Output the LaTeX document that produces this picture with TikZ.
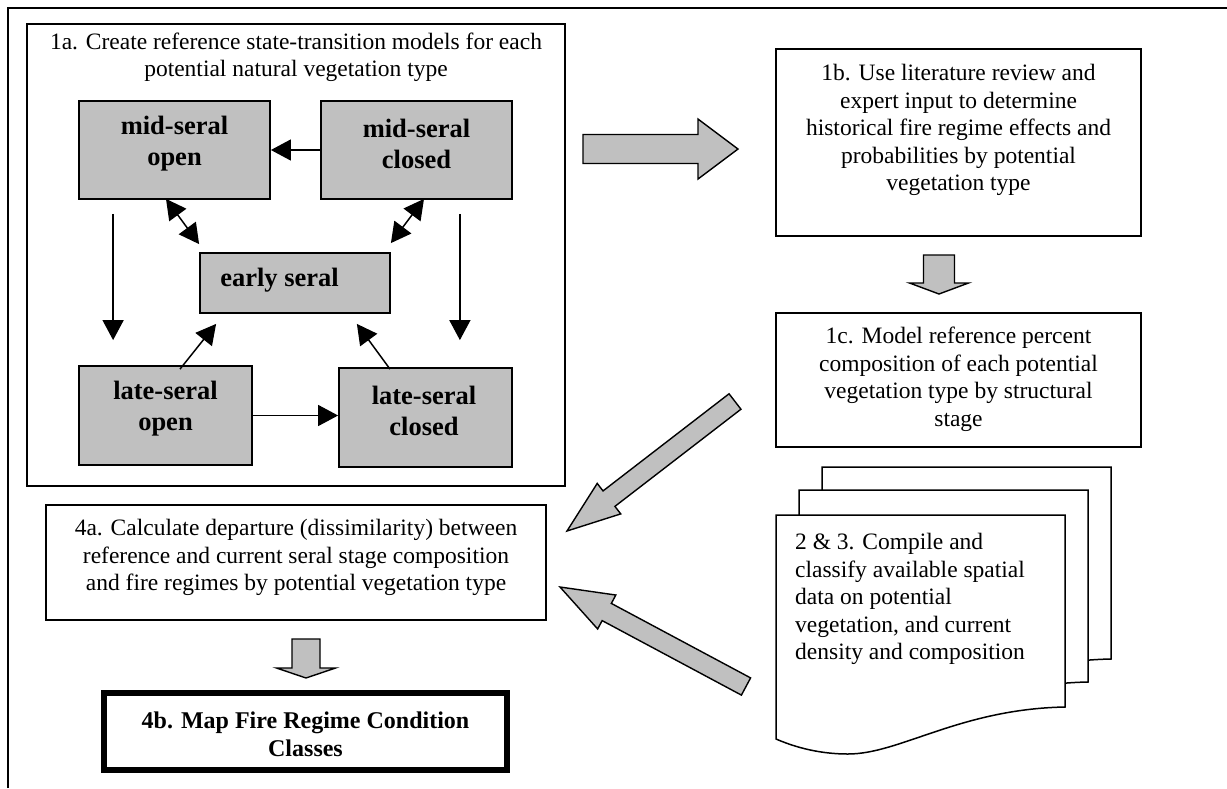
\documentclass[tikz,border=0pt]{standalone}
\usepackage{fontspec}
\setmainfont{Liberation Serif}
\usetikzlibrary{arrows.meta,calc}
\definecolor{boxgray}{RGB}{192,192,192}
\newcommand{\fatarrow}[5]{%
  \coordinate (fah) at ($(#2)!#5!(#1)$);
  \draw[fat] ($(#1)!#3!90:(#2)$) -- ($(fah)!#3!90:(#2)$) -- ($(fah)!#4!90:(#2)$) -- (#2)
    -- ($(fah)!#4!-90:(#2)$) -- ($(fah)!#3!-90:(#2)$) -- ($(#1)!#3!-90:(#2)$) -- cycle;}
\begin{document}
\begin{tikzpicture}[x=1pt,y=-1pt,
  box/.style={draw, line width=1.8pt, rectangle, inner sep=0pt},
  graybox/.style={box, fill=boxgray},
  txt/.style={font=\fontsize{23.5}{27.5}\selectfont, align=center, inner sep=0pt},
  graytxt/.style={font=\fontsize{26.5}{31}\selectfont\bfseries, align=center, inner sep=0pt},
  conn/.style={line width=1.5pt, -{Triangle[length=20pt,width=21pt]}},
  dconn/.style={line width=1.5pt, {Triangle[length=20pt,width=21pt]}-{Triangle[length=20pt,width=21pt]}},
  fat/.style={draw, line width=1.4pt, fill=boxgray, line join=miter},
  docpage/.pic={\draw[line width=1.5pt, fill=white] (0,0) -- (289,0) -- (289,192)
     .. controls (184,194) and (124,239) .. (72,239)
     .. controls (39,239) and (14,230) .. (0,224) -- cycle;}
]
\useasboundingbox (0,0) rectangle (1227,788);
\fill[white] (0,0) rectangle (1227,788);
% outer frame (top and left)
\draw[line width=2.2pt] (8,788) -- (8,8) -- (1227,8);

% box 1a
\node[box, minimum width=538pt, minimum height=462pt] (b1a) at (296,255) {};
\node[txt] (t1a) at (296,57.5) {1a. Create reference state-transition models for each\\potential natural vegetation type};

\node[graybox, minimum width=191pt, minimum height=98pt] (mso) at (174.5,150) {};
\node[graytxt] (tmso) at (174.5,143.5) {mid-seral\\open};
\node[graybox, minimum width=191pt, minimum height=98pt] (msc) at (416.5,150) {};
\node[graytxt] (tmsc) at (416.5,143.5) {mid-seral\\closed};
\node[graybox, minimum width=190pt, minimum height=60pt] (es) at (295,283) {};
\node[graytxt] (tes) at (279.5,280) {early seral};
\node[graybox, minimum width=173pt, minimum height=99pt] (lso) at (165.5,415.5) {};
\node[graytxt] (tlso) at (165.5,409) {late-seral\\open};
\node[graybox, minimum width=173pt, minimum height=99pt] (lsc) at (425.5,417.5) {};
\node[graytxt] (tlsc) at (424,411) {late-seral\\closed};

% connectors inside 1a
\draw[conn] (msc.west) -- (mso.east);
\draw[conn] (lso.east) -- (lso.east -| lsc.west);
\draw[conn] ([xshift=35pt,yshift=-14pt]mso.south west) -- ([xshift=35pt,yshift=25pt]lso.north west);
\draw[conn] ([xshift=-53pt,yshift=-14pt]msc.south east) -- ([xshift=-53pt,yshift=27pt]lsc.north east);
\draw[dconn] ([xshift=-8.5pt,yshift=1pt]mso.south) -- ([yshift=8pt]es.north west);
\draw[dconn] ([xshift=7.5pt,yshift=1pt]msc.south) -- ([yshift=9pt]es.north east);
\draw[conn] ([xshift=14.5pt,yshift=-4pt]lso.north) -- ([xshift=17pt,yshift=-10pt]es.south west);
\draw[conn] ([xshift=-35.5pt,yshift=-2pt]lsc.north) -- ([xshift=-34pt,yshift=-10pt]es.south east);

% box 1b
\node[box, minimum width=365pt, minimum height=187pt] (b1b) at (958.5,142.5) {};
\node[txt] (t1b) at (958.5,130) {1b. Use literature review and\\expert input to determine\\historical fire regime effects and\\probabilities by potential\\vegetation type};

% box 1c
\node[box, minimum width=365pt, minimum height=134pt] (b1c) at (958.5,380) {};
\node[txt] (t1c) at (958.5,379.5) {1c. Model reference percent\\composition of each potential\\vegetation type by structural\\stage};

% box 4a
\node[box, minimum width=500pt, minimum height=115pt] (b4a) at (296,562.5) {};
\node[txt] (t4a) at (296,557.5) {4a. Calculate departure (dissimilarity) between\\reference and current seral stage composition\\and fire regimes by potential vegetation type};

% box 4b
\node[box, line width=6pt, minimum width=403pt, minimum height=77pt] (b4b) at (305.5,731.5) {};
\node[txt, font=\fontsize{24}{28}\selectfont\bfseries] (t4b) at (305.5,734) {4b. Map Fire Regime Condition\\Classes};

% documents
\pic at (822,467) {docpage};
\pic at (799,490) {docpage};
\pic at (776,515) {docpage};
\node[txt, align=left, anchor=west] (tdoc) at (795,599) {2 \& 3. Compile and\\classify available spatial\\data on potential\\vegetation, and current\\density and composition};

% block arrows
\coordinate (r1t) at (583,149); \coordinate (r1p) at (738,149);
\fatarrow{r1t}{r1p}{14.5pt}{30pt}{40pt}
\coordinate (d1t) at (939,255); \coordinate (d1p) at (939,294);
\fatarrow{d1t}{d1p}{15.5pt}{29.5pt}{11pt}
\coordinate (d2t) at (306,639); \coordinate (d2p) at (306,678);
\fatarrow{d2t}{d2p}{14pt}{29.5pt}{10pt}
\coordinate (g1t) at (735,401.5); \coordinate (g1p) at (567,531);
\fatarrow{g1t}{g1p}{9.75pt}{19.25pt}{53pt}
\coordinate (g2t) at (746,686.5); \coordinate (g2p) at (560,587);
\fatarrow{g2t}{g2p}{9.75pt}{19.25pt}{53pt}
\end{tikzpicture}
\end{document}
